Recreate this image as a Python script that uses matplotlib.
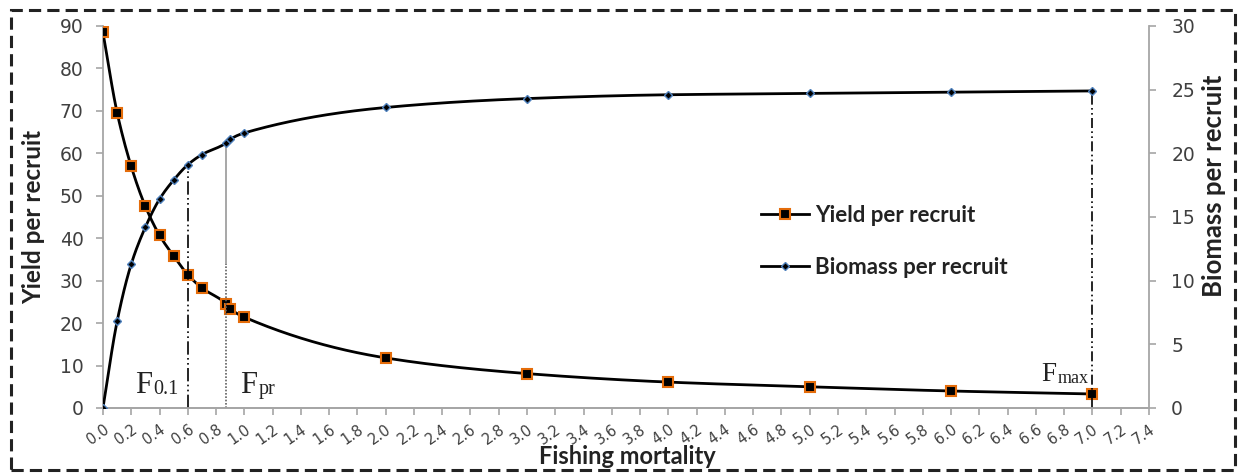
import numpy as np
import matplotlib
matplotlib.use("Agg")
import matplotlib.pyplot as plt
from matplotlib.lines import Line2D
from matplotlib.patches import Rectangle

# ---- data ----
F = [0.0, 0.1, 0.2, 0.3, 0.4, 0.5, 0.6, 0.7, 0.87, 0.9, 1.0, 2.0, 3.0, 4.0, 5.0, 6.0, 7.0]
yield_pr = [88.5, 69.6, 56.9, 47.5, 40.7, 35.8, 31.4, 28.3, 24.6, 23.4, 21.4, 11.8, 8.1, 6.1, 5.0, 4.0, 3.3]
biomass_pr = [0.0, 6.8, 11.3, 14.2, 16.4, 17.9, 19.1, 19.9, 20.8, 21.1, 21.6, 23.6, 24.3, 24.6, 24.7, 24.8, 24.9]
x_ticks = [round(0.2 * i, 1) for i in range(38)]
F01, Fpr, Fmax = 0.6, 0.87, 7.0

def pchip(x, y, xn):
    x = np.asarray(x, float); y = np.asarray(y, float)
    h = np.diff(x); d = np.diff(y) / h
    n = len(x); m = np.zeros(n)
    for k in range(1, n - 1):
        if d[k - 1] * d[k] > 0:
            w1 = 2 * h[k] + h[k - 1]; w2 = h[k] + 2 * h[k - 1]
            m[k] = (w1 + w2) / (w1 / d[k - 1] + w2 / d[k])
    m[0] = d[0]; m[-1] = d[-1]
    idx = np.clip(np.searchsorted(x, xn) - 1, 0, n - 2)
    t = (xn - x[idx]) / h[idx]
    h00 = 2 * t**3 - 3 * t**2 + 1; h10 = t**3 - 2 * t**2 + t
    h01 = -2 * t**3 + 3 * t**2; h11 = t**3 - t**2
    return h00 * y[idx] + h10 * h[idx] * m[idx] + h01 * y[idx + 1] + h11 * h[idx] * m[idx + 1]

fig = plt.figure(figsize=(12.42, 4.76), dpi=100)
ax = fig.add_axes([0.0829, 0.1429, 0.8422, 0.8025])
ax2 = ax.twinx()

axis_gray = '#A6A6A6'
tick_col = '#404040'
text_col = '#222222'
orange = '#E46C0A'
blue = '#4F81BD'
lab_font = 'Lato'

xs = np.linspace(0, 7.0, 800)
ax.plot(xs, pchip(F, yield_pr, xs), color='black', lw=2, zorder=3)
ax.plot(F, yield_pr, ls='none', marker='s', ms=7.5, mfc='black', mec=orange, mew=1.5, zorder=4)
ax2.plot(xs, pchip(F, biomass_pr, xs), color='black', lw=2, zorder=3)
ax2.plot(F, biomass_pr, ls='none', marker='D', ms=4.5, mfc='black', mec=blue, mew=1.0, zorder=4)

# reference lines
b01 = biomass_pr[F.index(F01)]
bpr = biomass_pr[F.index(Fpr)]
bmax = biomass_pr[F.index(Fmax)]
ax2.plot([F01, F01], [0, b01], color='black', lw=1.2, dashes=[8, 2, 1, 2, 1, 2], zorder=2)
ax2.plot([Fpr, Fpr], [11.3, bpr], color='#A0A0A0', lw=1.3, zorder=2)
ax2.plot([Fpr, Fpr], [0, 11.3], color='#606060', lw=1.2, ls=(0, (1, 1)), zorder=2)
ax2.plot([Fmax, Fmax], [0, bmax], color='black', lw=1.2, dashes=[6, 2, 1, 2, 1, 2], zorder=2)

def flabel(x, y, main, sub, size_main, size_sub, dx, dy):
    ax.text(x, y, main, fontsize=size_main, family='Liberation Serif', color=text_col)
    ax.annotate(sub, xy=(x, y), xytext=(dx, dy), textcoords='offset pixels',
                fontsize=size_sub, family='Liberation Serif', color=text_col)

flabel(0.226, 3.5, 'F', '0.1', 22, 14.5, 18, -1)
flabel(0.969, 3.5, 'F', 'pr', 22, 14.5, 19, -1)
flabel(6.64, 6.3, 'F', 'max', 19.5, 13, 16, -2)

ax.set_xlim(0, 7.4)
ax.set_ylim(0, 90)
ax2.set_ylim(0, 30)
ax.set_yticks(range(0, 91, 10))
ax2.set_yticks(range(0, 31, 5))
ax.set_xticks(x_ticks)
ax.set_xticklabels([f'{v:.1f}' for v in x_ticks], rotation=35, ha='right',
                   rotation_mode='anchor', fontsize=10.5, color=tick_col)

for a in (ax, ax2):
    a.spines['top'].set_visible(False)
    for s in ('left', 'right', 'bottom'):
        a.spines[s].set_color(axis_gray)
        a.spines[s].set_linewidth(1.3)
    a.tick_params(axis='both', colors=axis_gray, length=5, width=1.2, labelcolor=tick_col, labelsize=13.5)
ax.tick_params(axis='x', labelsize=10.5, pad=5)
ax.tick_params(axis='y', pad=9)
ax2.tick_params(axis='y', pad=11)
ax2.spines['left'].set_visible(False)
ax.spines['right'].set_visible(False)

ax.set_ylabel('Yield per recruit', fontsize=17.5, fontweight='bold', family=lab_font, color=text_col)
ax.yaxis.set_label_coords(-0.0554, 0.5)
ax2.set_ylabel('Biomass per recruit', fontsize=18.5, fontweight='bold', family=lab_font, color=text_col)
ax2.yaxis.set_label_coords(1.0507, 0.581)
ax.set_xlabel('Fishing mortality', fontsize=17, fontweight='bold', family=lab_font, color=text_col)
ax.xaxis.set_label_coords(0.501, -0.097)

h1 = Line2D([], [], color='black', lw=2, marker='s', ms=7, mfc='black', mec=orange, mew=1.5)
h2 = Line2D([], [], color='black', lw=2, marker='D', ms=4.5, mfc='black', mec=blue, mew=1.0)
leg = ax2.legend([h1, h2], ['Yield per recruit', 'Biomass per recruit'],
                 loc='center left', bbox_to_anchor=(0.61, 0.436), frameon=False,
                 prop={'family': lab_font, 'weight': 'bold', 'size': 16},
                 labelspacing=1.4, handlelength=2.15, handletextpad=0.3)
for t in leg.get_texts():
    t.set_color(text_col)

fig.patches.append(Rectangle((0.009, 0.012), 0.985, 0.968, transform=fig.transFigure,
                             fill=False, edgecolor='#222222', lw=2.2, ls=(0, (4, 2))))

fig.savefig('out.png', dpi=100)
